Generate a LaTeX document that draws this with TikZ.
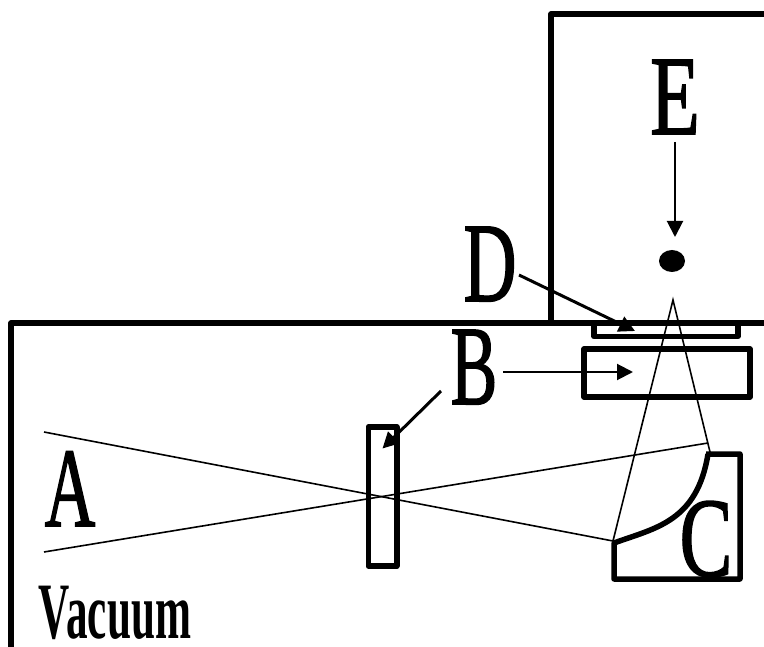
\documentclass[tikz,border=0pt]{standalone}
\usepackage{fontspec}
\setmainfont[FakeBold=1.6]{Liberation Serif}
\newfontfamily\vacfont{Liberation Serif}
\usetikzlibrary{arrows.meta}
\tikzset{
  wall/.style={line width=5.5pt,line join=round},
  boxnode/.style={draw,line width=5.5pt,line join=round,inner sep=0pt,outer sep=0pt},
  ray/.style={line width=1.6pt,line join=miter},
  arr/.style={-{Triangle[length=16pt,width=16pt]},line width=#1},
  arr/.default=2pt,
  bigletter/.style={anchor=base,inner sep=0pt,outer sep=0pt,font=\fontsize{113}{113}\selectfont,transform shape},
}
\begin{document}
\begin{tikzpicture}[x=1pt,y=-1pt]
\useasboundingbox (0,0) rectangle (764,647);
\fill[white] (0,0) rectangle (764,647);
% walls
\draw[wall] (764,14) -- (551,14) -- (551,323);
\draw[wall] (764,323) -- (11,323) -- (11,647);
% rays
\coordinate (a1) at (44,432);
\coordinate (a2) at (44,552);
\coordinate (m1) at (613,541);
\coordinate (m2) at (708,443);
\coordinate (m3) at (710,452);
\coordinate (f) at (673,300);
\draw[ray] (a1) -- (m1) -- (f) -- (m3);
\draw[ray] (a2) -- (m2);
% boxes
\node[boxnode,minimum width=144pt,minimum height=13pt] (dbox) at (666,330) {};
\node[boxnode,minimum width=166pt,minimum height=48pt] (bbox) at (667,373) {};
\node[boxnode,minimum width=28.5pt,minimum height=139pt] (lens) at (382.5,496.5) {};
\draw[wall] (706,454) -- (740,454) -- (740,579) -- (614,579) -- (614,543)
  .. controls (655,528) and (697,522) .. (708,454);
% dot
\fill (672,261) ellipse [x radius=13pt,y radius=11pt];
\coordinate (dot) at (672,261);
% labels
\node[bigletter,xscale=.62] (A) at (70,526) {A};
\node[bigletter,xscale=.62] (B) at (474,404) {B};
\node[bigletter,xscale=.7] (C) at (706,576) {C};
\node[bigletter,xscale=.65] (D) at (490,301) {D};
\node[bigletter,xscale=.72] (E) at (675,134) {E};
\node[anchor=base,inner sep=0pt,font=\vacfont\bfseries\fontsize{80}{80}\selectfont,xscale=.54,transform shape] (V) at (115,638) {Vacuum};
% arrows
\draw[arr] ([shift={(0,8)}]E.base) -- ([shift={(3,-24)}]dot);
\draw[arr=3pt] ([shift={(29,-26)}]D.base) -- ([shift={(-31,1)}]dbox.center);
\draw[arr] ([shift={(29,-32)}]B.base) -- ([shift={(-34,-1)}]bbox.center);
\draw[arr=3pt] ([shift={(-33,-13)}]B.base) -- ([shift={(0,-48)}]lens.center);
\end{tikzpicture}
\end{document}
